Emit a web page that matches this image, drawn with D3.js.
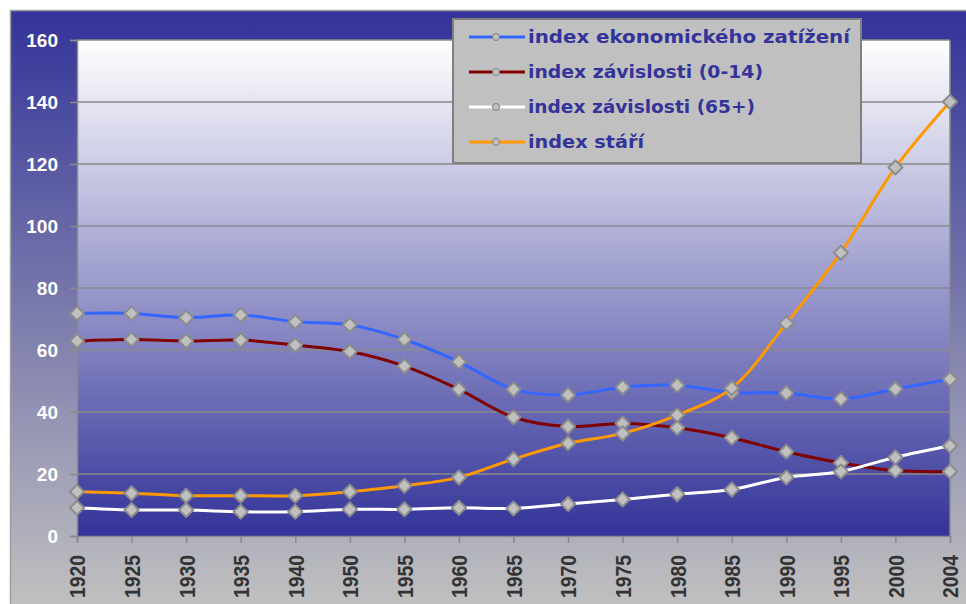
<!DOCTYPE html>
<html>
<head>
<meta charset="utf-8">
<script src="https://cdn.jsdelivr.net/npm/d3@7"></script>
<style>
  body { margin: 0; background: #fff; }
  svg { display: block; }
</style>
</head>
<body>
<svg width="966" height="604"></svg>
<script>
// chart data
var years = ["1920", "1925", "1930", "1935", "1940", "1950", "1955", "1960", "1965",
             "1970", "1975", "1980", "1985", "1990", "1995", "2000", "2004"];

var ekonomZatizeni = [71.8, 71.8, 70.4, 71.3, 69.1, 68.1, 63.4, 56.2, 47.3,
                      45.5, 48.0, 48.6, 46.3, 46.1, 44.2, 47.4, 50.6];
var zavislost014   = [62.9, 63.4, 62.9, 63.2, 61.6, 59.5, 54.8, 47.3, 38.3,
                      35.3, 36.3, 34.9, 31.7, 27.2, 23.6, 21.1, 20.8];
var zavislost65    = [9.1, 8.4, 8.4, 7.8, 7.8, 8.6, 8.6, 9.1, 8.9,
                      10.3, 11.8, 13.5, 15.0, 18.9, 20.8, 25.4, 29.1];
var indexStari     = [14.3, 13.8, 13.0, 13.0, 13.0, 14.3, 16.2, 18.9, 24.8,
                      29.9, 33.1, 39.0, 47.7, 68.6, 91.4, 118.9, 140.1];

var seriesNames  = ["index ekonomického zatížení", "index závislosti (0-14)",
                    "index závislosti (65+)", "index stáří"];
var seriesColors = ["#3366ff", "#800000", "#ffffff", "#ff9900"];
var seriesValues = [ekonomZatizeni, zavislost014, zavislost65, indexStari];

var yTicks = [0, 20, 40, 60, 80, 100, 120, 140, 160];

var svg = d3.select("svg"),
    width = +svg.attr("width"),
    height = +svg.attr("height");

var plot = {left: 77, right: 950, top: 40, bottom: 536};

var defs = svg.append("defs");

var outerGrad = defs.append("linearGradient")
    .attr("id", "outerGrad")
    .attr("x1", 0).attr("y1", 0).attr("x2", 0).attr("y2", 1);
outerGrad.append("stop").attr("offset", "0%").attr("stop-color", "#333399");
outerGrad.append("stop").attr("offset", "100%").attr("stop-color", "#c0c0c0");

var plotGrad = defs.append("linearGradient")
    .attr("id", "plotGrad")
    .attr("x1", 0).attr("y1", 0).attr("x2", 0).attr("y2", 1);
plotGrad.append("stop").attr("offset", "0%").attr("stop-color", "#ffffff");
plotGrad.append("stop").attr("offset", "100%").attr("stop-color", "#333399");

// chart area background
svg.append("rect")
    .attr("x", 10).attr("y", 10)
    .attr("width", width - 10).attr("height", height - 10)
    .attr("fill", "url(#outerGrad)");
svg.append("path")
    .attr("d", "M10.5," + height + "V10.5H" + width)
    .attr("fill", "none")
    .attr("stroke", "#a0a0a0")
    .attr("stroke-width", 1.5);

var x = d3.scalePoint()
    .domain(years)
    .range([plot.left, plot.right]);

var y = d3.scaleLinear()
    .domain([0, 160])
    .range([plot.bottom, plot.top]);

// plot area
svg.append("rect")
    .attr("x", plot.left).attr("y", plot.top)
    .attr("width", plot.right - plot.left).attr("height", plot.bottom - plot.top)
    .attr("fill", "url(#plotGrad)");

svg.append("g")
    .attr("class", "grid")
    .selectAll("line")
    .data(yTicks.slice(1))
    .enter().append("line")
      .attr("x1", plot.left).attr("x2", plot.right)
      .attr("y1", function(d) { return y(d); })
      .attr("y2", function(d) { return y(d); })
      .attr("stroke", "#8a8a8a")
      .attr("stroke-width", 1.5);

svg.append("line")
    .attr("x1", plot.right).attr("x2", plot.right)
    .attr("y1", plot.top).attr("y2", plot.bottom)
    .attr("stroke", "#8a8a8a")
    .attr("stroke-width", 1.5);

// axes
var yAxis = svg.append("g")
    .attr("transform", "translate(" + plot.left + ",0)")
    .call(d3.axisLeft(y).tickValues(yTicks).tickSize(7).tickPadding(12));

var xAxis = svg.append("g")
    .attr("transform", "translate(0," + plot.bottom + ")")
    .call(d3.axisBottom(x).tickSize(7));

[yAxis, xAxis].forEach(function(a) {
  a.select(".domain").attr("stroke", "#8a8a8a").attr("stroke-width", 1.5);
  a.selectAll(".tick line").attr("stroke", "#8a8a8a").attr("stroke-width", 1.5);
});

yAxis.selectAll(".tick text")
    .attr("fill", "#ffffff")
    .attr("font-family", "'Liberation Sans', Arial, sans-serif")
    .attr("font-weight", "bold")
    .attr("font-size", 19);

xAxis.selectAll(".tick text")
    .attr("fill", "#333333")
    .attr("font-family", "'Liberation Sans', Arial, sans-serif")
    .attr("font-weight", "bold")
    .attr("font-size", 22)
    .attr("text-anchor", "end")
    .attr("x", 0)
    .attr("y", 0)
    .attr("dy", "0.36em")
    .attr("transform", "translate(0,19) rotate(-90)")
    .attr("textLength", 43)
    .attr("lengthAdjust", "spacingAndGlyphs");

// series lines
var line = d3.line()
    .x(function(d, i) { return x(years[i]); })
    .y(function(d) { return y(d); })
    .curve(d3.curveCatmullRom.alpha(0.5));

var marker = d3.symbol().type(d3.symbolSquare).size(100);

seriesValues.forEach(function(vals, s) {
  var g = svg.append("g").attr("class", "series");

  g.append("path")
      .datum(vals)
      .attr("d", line)
      .attr("fill", "none")
      .attr("stroke", seriesColors[s])
      .attr("stroke-width", 3);

  g.selectAll("path.marker")
      .data(vals)
      .enter().append("path")
        .attr("class", "marker")
        .attr("d", marker)
        .attr("transform", function(d, i) {
          return "translate(" + x(years[i]) + "," + y(d) + ") rotate(45)";
        })
        .attr("fill", "#c0c0c0")
        .attr("stroke", "#8c8c8c")
        .attr("stroke-width", 2)
        .attr("stroke-linejoin", "round");
});

// legend
var legend = svg.append("g").attr("class", "legend");

legend.append("rect")
    .attr("x", 453).attr("y", 19)
    .attr("width", 408).attr("height", 144)
    .attr("fill", "#c0c0c0")
    .attr("stroke", "#808080")
    .attr("stroke-width", 2);

var item = legend.selectAll("g.item")
    .data(seriesNames)
    .enter().append("g")
      .attr("class", "item")
      .attr("transform", function(d, i) { return "translate(0," + (37 + i * 35) + ")"; });

item.append("line")
    .attr("x1", 469).attr("x2", 525)
    .attr("stroke", function(d, i) { return seriesColors[i]; })
    .attr("stroke-width", 3);

item.append("circle")
    .attr("cx", 496).attr("r", 3.5)
    .attr("fill", "#c0c0c0")
    .attr("stroke", "#808080")
    .attr("stroke-width", 1);

var legendWidths = [322, 235, 227, 116];

item.append("text")
    .attr("x", 528)
    .attr("dy", "0.36em")
    .attr("fill", "#333399")
    .attr("font-family", "'DejaVu Sans', Verdana, sans-serif")
    .attr("font-weight", "bold")
    .attr("font-size", 18)
    .attr("textLength", function(d, i) { return legendWidths[i]; })
    .attr("lengthAdjust", "spacingAndGlyphs")
    .text(function(d) { return d; });
</script>
</body>
</html>
